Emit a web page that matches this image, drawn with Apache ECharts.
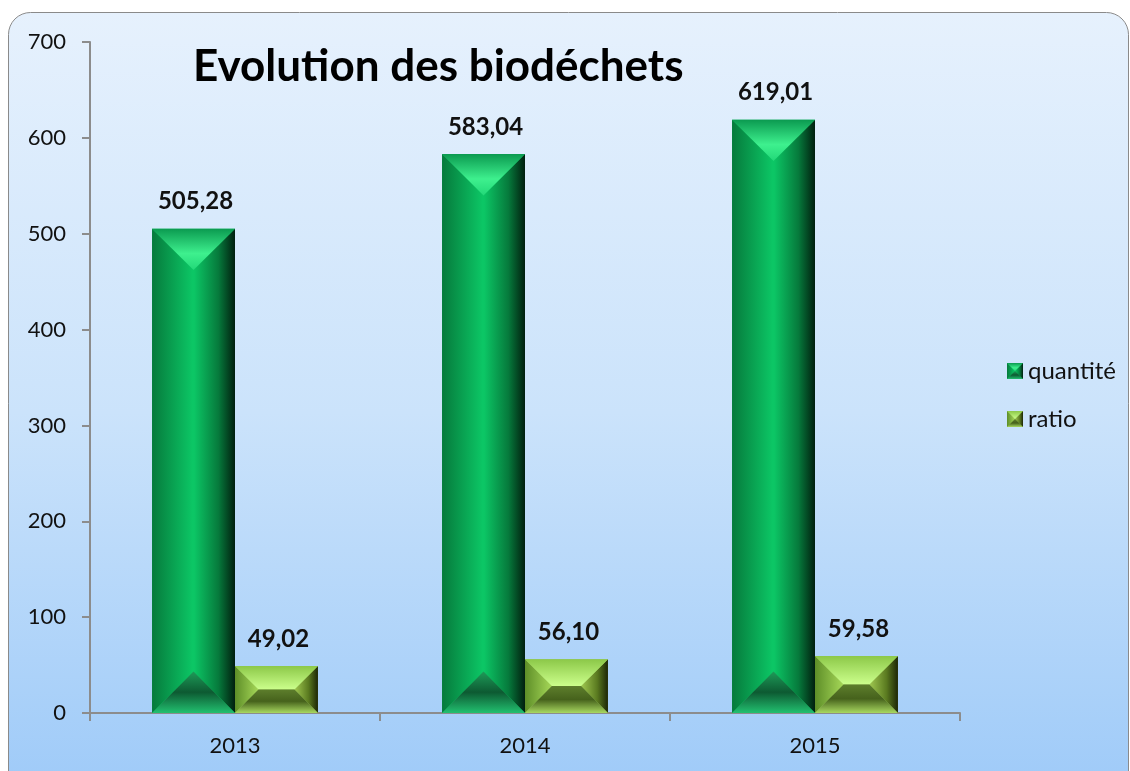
<!DOCTYPE html>
<html><head><meta charset="utf-8">
<script src="https://cdn.jsdelivr.net/npm/echarts@6/dist/echarts.min.js"></script>
<style>html,body{margin:0;padding:0;background:#fff}#c{width:1130px;height:771px}</style>
</head><body><div id="c"></div>
<script>
var categories = ['2013', '2014', '2015'];
var quantite = [505.28, 583.04, 619.01];
var ratio = [49.02, 56.10, 59.58];
var seriesNames = ['quantité', 'ratio'];
var titleText = 'Evolution des biodéchets';

var FONT = 'Lato, "Open Sans", sans-serif';
function lg(x0,y0,x1,y1,stops){return new echarts.graphic.LinearGradient(x0,y0,x1,y1,stops.map(function(s){return {offset:s[0],color:s[1]};}));}

var stopsList = [
  { top:[[0,'#0b9a50'],[0.6,'#3ef08e'],[1,'#22d878']],
    left:[[0,'#067a3c'],[1,'#0cc866']],
    right:[[0,'#0cc866'],[0.6,'#067a3c'],[1,'#011f0f']],
    bottom:[[0,'#1e9a58'],[0.5,'#0d5a32'],[1,'#22c070']],
    center:'#0cc062' },
  { top:[[0,'#8cc848'],[1,'#ccff8c']],
    left:[[0,'#5e8e28'],[1,'#a6d858']],
    right:[[0,'#a0c850'],[0.6,'#5a7a20'],[1,'#1c2606']],
    bottom:[[0,'#5d7e2c'],[0.5,'#46621c'],[1,'#a8d860']],
    center:'#98c45c' }
];
var palettes = stopsList.map(function(s){
  return {top:lg(0,0,0,1,s.top), left:lg(0,0,1,0,s.left), right:lg(0,0,1,0,s.right),
          bottom:lg(0,0,0,1,s.bottom), center:s.center};
});

function makeIcon(s){
  var c = document.createElement('canvas'); c.width=32; c.height=32;
  var g = c.getContext('2d');
  function grad(x0,y0,x1,y1,st){var gr=g.createLinearGradient(x0,y0,x1,y1);st.forEach(function(t){gr.addColorStop(t[0],t[1]);});return gr;}
  function poly(pts,f){g.beginPath();g.moveTo(pts[0][0],pts[0][1]);for(var i=1;i<pts.length;i++)g.lineTo(pts[i][0],pts[i][1]);g.closePath();g.fillStyle=f;g.fill();}
  poly([[0,0],[32,0],[32,32],[0,32]], s.center);
  poly([[0,0],[16,16],[0,32]], grad(0,0,16,0,s.left));
  poly([[32,0],[16,16],[32,32]], grad(16,0,32,0,s.right));
  poly([[0,0],[32,0],[16,16]], grad(0,0,0,16,s.top));
  poly([[0,32],[32,32],[16,16]], grad(0,16,0,32,s.bottom));
  return 'image://' + c.toDataURL();
}

function fmt(v){return v.toFixed(2).replace('.',',');}

function makeRender(sIdx){
  return function(params, api){
    var cat = api.value(0), val = api.value(1);
    var base = api.coord([cat, 0]);
    var topP = api.coord([cat, val]);
    var band = api.size([1,0])[0];
    var w = band*0.286;
    var x0 = sIdx===0 ? base[0]-w : base[0];
    var x1 = x0 + w;
    var y0 = topP[1], y1 = base[1];
    var h = y1 - y0;
    var b = Math.min(w/2, h/2);
    var p = palettes[sIdx];
    var ix0 = x0+b, ix1 = x1-b, iy0 = y0+b, iy1 = y1-b;
    var children = [
      {type:'polygon', shape:{points:[[x0,y0],[x1,y0],[x1,y1],[x0,y1]]}, style:{fill:p.center}},
      {type:'polygon', shape:{points:[[x0,y0],[ix0,iy0],[ix0,iy1],[x0,y1]]}, style:{fill:p.left}},
      {type:'polygon', shape:{points:[[x1,y0],[ix1,iy0],[ix1,iy1],[x1,y1]]}, style:{fill:p.right}},
      {type:'polygon', shape:{points:[[x0,y0],[x1,y0],[ix1,iy0],[ix0,iy0]]}, style:{fill:p.top}},
      {type:'polygon', shape:{points:[[x0,y1],[x1,y1],[ix1,iy1],[ix0,iy1]]}, style:{fill:p.bottom}},
      {type:'text', style:{text:fmt(val), x:(x0+x1)/2+2, y:y0-27, align:'center', verticalAlign:'middle',
        font:'bold 24px '+FONT, fill:'#111'}}
    ];
    return {type:'group', children:children};
  };
}

var chart = echarts.init(document.getElementById('c'), null, {renderer:'canvas'});
chart.setOption({
  animation:false,
  graphic:[
    {type:'rect', z:-10, shape:{x:8.5,y:12.5,width:1120,height:800,r:22},
     style:{fill:lg(0,0,0,1,[[0,'#e6f1fd'],[0.5,'#cbe3fb'],[1,'#9cc9f8']]), stroke:'#8a8a8a', lineWidth:1}},
    {type:'text', left:193, top:45, style:{text:titleText, font:'bold 44px '+FONT, fill:'#000'}}
  ],
  grid:{left:90, right:170, top:42, bottom:58},
  legend:{orient:'vertical', left:1002, top:354, itemGap:24, itemWidth:16, itemHeight:16,
    textStyle:{fontFamily:FONT, fontSize:24, color:'#111'},
    data:[{name:seriesNames[0], icon:makeIcon(stopsList[0])},{name:seriesNames[1], icon:makeIcon(stopsList[1])}]},
  xAxis:{type:'category', data:categories,
    axisLine:{lineStyle:{color:'#8c8c8c', width:2}},
    axisTick:{show:true, length:8, lineStyle:{color:'#8c8c8c', width:2}},
    axisLabel:{fontFamily:FONT, fontSize:22, color:'#111', margin:22}},
  yAxis:{type:'value', min:0, max:700, interval:100,
    axisLine:{show:true, lineStyle:{color:'#8c8c8c', width:2}},
    axisTick:{show:true, length:8, lineStyle:{color:'#8c8c8c', width:2}},
    splitLine:{show:false},
    axisLabel:{fontFamily:FONT, fontSize:22, color:'#111', margin:24}},
  series:[
    {name:seriesNames[0], type:'custom', renderItem:makeRender(0), itemStyle:{color:'#0aa855'},
     encode:{x:0,y:1}, data:categories.map(function(c,i){return [i, quantite[i]];})},
    {name:seriesNames[1], type:'custom', renderItem:makeRender(1), itemStyle:{color:'#86c040'},
     encode:{x:0,y:1}, data:categories.map(function(c,i){return [i, ratio[i]];})}
  ]
});
</script></body></html>
